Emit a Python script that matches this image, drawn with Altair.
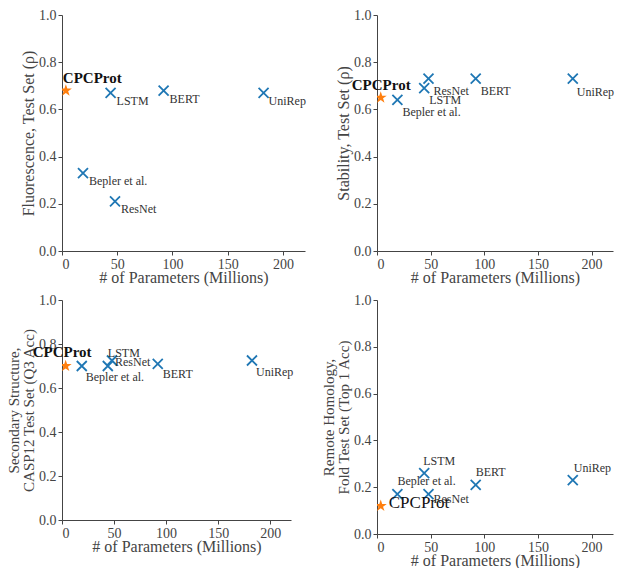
import altair as alt
import pandas as pd

# ---- data ----
models = ["CPCProt", "Bepler et al.", "LSTM", "ResNet", "BERT", "UniRep"]
params = [3.5, 19, 44, 48, 92, 182.5]          # millions of parameters
fluorescence = [0.68, 0.33, 0.67, 0.21, 0.68, 0.67]
stability = [0.65, 0.64, 0.69, 0.73, 0.73, 0.73]
secondary = [0.70, 0.70, 0.70, 0.725, 0.71, 0.725]
homology = [0.12, 0.17, 0.26, 0.17, 0.21, 0.23]

x_ticks = [0, 50, 100, 150, 200]
y_ticks = [0.0, 0.2, 0.4, 0.6, 0.8, 1.0]
x_title = "# of Parameters (Millions)"
y_titles = [
    "Fluorescence, Test Set (ρ)",
    "Stability, Test Set (ρ)",
    ["Secondary Structure,", "CASP12 Test Set (Q3 Acc)"],
    ["Remote Homology,", "Fold Test Set (Top 1 Acc)"],
]

FONT = "Liberation Serif"
BLUE = "#1f77b4"
ORANGE = "#ff7f0e"
TEXT = "#333333"
X_PATH = "M-1,-1L1,1M-1,1L1,-1"
STAR_PATH = ("M0,-1L0.225,-0.309L0.951,-0.309L0.363,0.118L0.588,0.809"
             "L0,0.382L-0.588,0.809L-0.363,0.118L-0.951,-0.309L-0.225,-0.309Z")

# label placement (pixels, relative to each marker) for each panel
offsets = [
    {"CPCProt": (-3, -13), "Bepler et al.": (6, 8), "LSTM": (6, 8),
     "ResNet": (6, 8), "BERT": (6, 8), "UniRep": (5, 8)},
    {"CPCProt": (-29, -13), "Bepler et al.": (5, 12), "LSTM": (5, 12),
     "ResNet": (5, 12), "BERT": (5, 12), "UniRep": (4, 13)},
    {"CPCProt": (-33, -14), "Bepler et al.": (4, 11), "LSTM": (0, -13),
     "ResNet": (3, 1), "BERT": (5, 10), "UniRep": (4, 11)},
    {"CPCProt": (8, -3), "Bepler et al.": (0, -13), "LSTM": (-1, -12),
     "ResNet": (5, 5), "BERT": (0, -13), "UniRep": (1, -12)},
]
cpc_style = [
    {"fontWeight": "bold", "fontSize": 15},
    {"fontWeight": "bold", "fontSize": 15},
    {"fontWeight": "bold", "fontSize": 15},
    {"fontWeight": "normal", "fontSize": 17},
]
sizes = [(243, 236), (236, 236), (229, 220), (236, 234)]
ytitle_sizes = [16, 16, 15, 15]


def panel(values, ytitle, offs, cstyle, w, h, tsize):
    df = pd.DataFrame({"model": models, "params": params, "score": values})
    base = alt.Chart(df)
    x = alt.X("params:Q", scale=alt.Scale(domain=[0, 220], nice=False),
              axis=alt.Axis(values=x_ticks, title=x_title))
    y = alt.Y("score:Q", scale=alt.Scale(domain=[0, 1], nice=False),
              axis=alt.Axis(values=y_ticks, format=".1f", title=ytitle,
                            titleFontSize=tsize, titleLineHeight=15))
    crosses = base.mark_point(shape=X_PATH, filled=False, color=BLUE,
                              size=100, strokeWidth=1.8, opacity=1).encode(
        x=x, y=y).transform_filter(alt.datum.model != "CPCProt")
    star = base.mark_point(shape=STAR_PATH, filled=True, color=ORANGE,
                           size=160, opacity=1, clip=True).encode(
        x=x, y=y).transform_filter(alt.datum.model == "CPCProt")
    layers = [crosses, star]
    for m in models:
        dx, dy = offs[m]
        kw = dict(font=FONT, fontSize=12, color=TEXT, align="left",
                  baseline="middle", dx=dx, dy=dy)
        if m == "CPCProt":
            kw.update(cstyle)
            kw["color"] = "#111111"
        layers.append(
            base.mark_text(**kw).encode(x=x, y=y, text="model:N")
            .transform_filter(alt.datum.model == m)
        )
    return alt.layer(*layers).properties(width=w, height=h)


series = [fluorescence, stability, secondary, homology]
panels = [panel(series[i], y_titles[i], offsets[i], cpc_style[i],
                sizes[i][0], sizes[i][1], ytitle_sizes[i])
          for i in range(4)]

chart = alt.concat(
    *panels, columns=2, spacing={"row": 49, "column": 72},
    bounds="flush", align="each"
).properties(
    padding={"left": -2, "top": 0, "right": 0, "bottom": 0}
).configure_view(stroke=None).configure_axis(
    grid=False,
    labelFont=FONT, labelFontSize=14, labelColor="#444444",
    titleFont=FONT, titleFontSize=16, titleFontWeight="normal",
    titleColor="#444444",
    domainColor="#444444", tickColor="#444444", tickSize=4,
    labelPadding=2, titlePadding=2,
).configure_axisX(labelPadding=2, titlePadding=-2)

chart.save("out.html", embed_options={"renderer": "svg", "actions": False})
